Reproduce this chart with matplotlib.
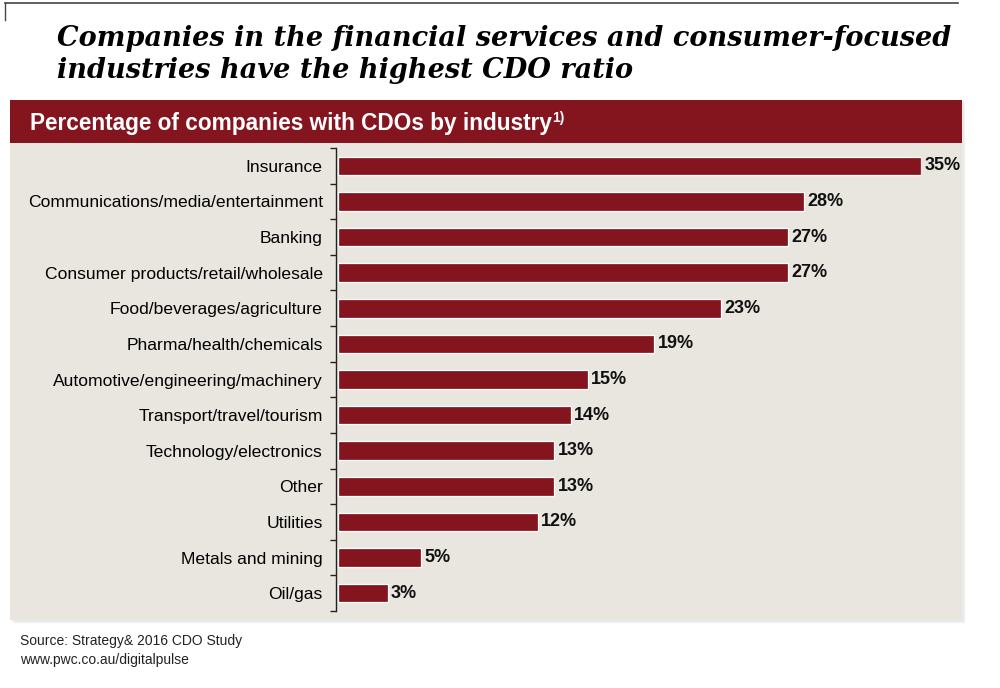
import matplotlib.pyplot as plt
import numpy as np
from matplotlib.patches import Rectangle
from matplotlib.lines import Line2D

industries = [
    'Insurance',
    'Communications/media/entertainment',
    'Banking',
    'Consumer products/retail/wholesale',
    'Food/beverages/agriculture',
    'Pharma/health/chemicals',
    'Automotive/engineering/machinery',
    'Transport/travel/tourism',
    'Technology/electronics',
    'Other',
    'Utilities',
    'Metals and mining',
    'Oil/gas',
]
shares = [35, 28, 27, 27, 23, 19, 15, 14, 13, 13, 12, 5, 3]

title_lines = ['Companies in the financial services and consumer-focused',
               'industries have the highest CDO ratio']
panel_title = 'Percentage of companies with CDOs by industry'
source_lines = ['Source: Strategy& 2016 CDO Study', 'www.pwc.co.au/digitalpulse']

RED = '#84151f'
PANEL = '#e9e6df'
SANS = 'Liberation Sans'

W, H = 1000, 688
fig = plt.figure(figsize=(W / 100, H / 100), dpi=100)
fig.patch.set_facecolor('white')


def fx(px):
    return px / W


def fy(py):
    return 1 - py / H


# frame lines at top-left
fig.add_artist(Line2D([fx(5), fx(958)], [fy(3), fy(3)], color='#444444', lw=1.2))
fig.add_artist(Line2D([fx(5), fx(5)], [fy(3), fy(20)], color='#444444', lw=1.0))

for line, base in zip(title_lines, [46, 78]):
    fig.text(fx(57), fy(base), line, fontsize=19.5, fontweight='bold', style='italic',
             family='DejaVu Serif', va='baseline', ha='left')

# panel with soft shadow
for i, a in enumerate([0.10, 0.07, 0.04]):
    fig.add_artist(Rectangle((fx(12 + i), fy(622 + i)), fx(952), fy(100) - fy(622),
                             facecolor='#999999', alpha=a, edgecolor='none', zorder=0))
fig.add_artist(Rectangle((fx(10), fy(620)), fx(952), fy(100) - fy(620),
                         facecolor=PANEL, edgecolor='none', zorder=0.5))
fig.add_artist(Rectangle((fx(10), fy(143)), fx(952), fy(100) - fy(143),
                         facecolor=RED, edgecolor='none', zorder=0.6))
ht = fig.text(fx(30), fy(130), panel_title, color='white', fontsize=16.3, fontweight='bold',
              family=SANS, va='baseline', ha='left', zorder=1)
fig.canvas.draw()
bb = ht.get_window_extent()
fig.text(bb.x1 / W, fy(130) + 8 / H, '1)', color='white', fontsize=10,
         fontweight='bold', family=SANS, va='baseline', ha='left', zorder=1)

# bar chart
ax = fig.add_axes([fx(336), fy(611), fx(921) - fx(336), fy(148) - fy(611)])
ax.set_zorder(2)
ax.set_facecolor('none')
y = np.arange(len(industries))
ax.barh(y, shares, height=0.52, color=RED, edgecolor='white', linewidth=0.9, left=0.1)
ax.set_ylim(len(industries) - 0.5, -0.5)
ax.set_xlim(0, 35.1)
ax.set_yticks(y)
ax.set_yticklabels(industries, family=SANS, fontsize=12.6)
ax.tick_params(axis='y', which='major', length=0, pad=9.5)
ax.set_yticks(np.arange(-0.5, len(industries), 1), minor=True)
ax.tick_params(axis='y', which='minor', length=4, width=1, color='#222222', direction='out')
ax.set_xticks([])
for s in ['top', 'right', 'bottom']:
    ax.spines[s].set_visible(False)
ax.spines['left'].set_color('#222222')
ax.spines['left'].set_linewidth(1)
for yi, v in zip(y, shares):
    ax.text(v + 0.3, yi, f'{v}%', va='center', ha='left', fontsize=13,
            fontweight='bold', family=SANS, color='#111111', clip_on=False)

for line, base in zip(source_lines, [645, 664]):
    fig.text(fx(20), fy(base), line, fontsize=10, family=SANS, color='#222222',
             va='baseline', ha='left')

fig.savefig('out.png', dpi=100)
